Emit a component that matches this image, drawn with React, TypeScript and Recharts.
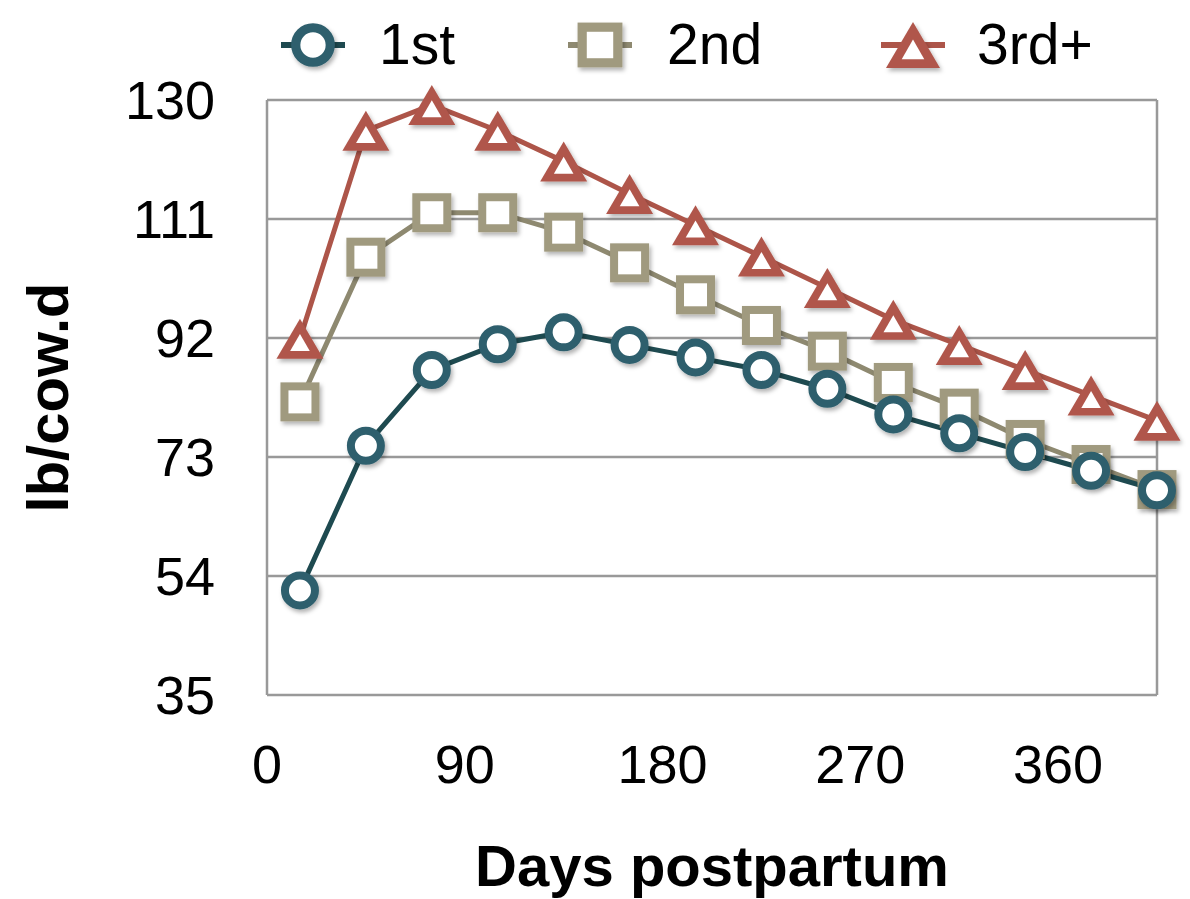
import { LineChart, Line, XAxis, YAxis, CartesianGrid, Legend } from "recharts";

const days = [15, 45, 75, 105, 135, 165, 195, 225, 255, 285, 315, 345, 375, 405];
const first = [51.7, 74.8, 86.9, 91.0, 92.9, 90.9, 88.9, 86.9, 83.9, 79.8, 76.8, 73.8, 70.8, 67.7];
const second = [81.8, 104.9, 112.0, 112.0, 108.9, 104.0, 98.9, 94.0, 89.9, 84.9, 80.8, 75.8, 71.8, 67.8];
const third = [91.9, 125.1, 129.2, 125.1, 120.2, 115.0, 110.0, 105.0, 100.0, 94.9, 90.9, 86.9, 82.8, 78.8];

const xTicks = [0, 90, 180, 270, 360];
const yTicks = [35, 54, 73, 92, 111, 130];
const seriesNames = ["1st", "2nd", "3rd+"];

const data = days.map((d, i) => ({ day: d, first: first[i], second: second[i], third: third[i] }));

const FONT = "'Liberation Sans', Arial, Helvetica, sans-serif";

const colors = {
  first: { line: "#1e4a50", mark: "#2f5f6d" },
  second: { line: "#8e8970", mark: "#a09a7f" },
  third: { line: "#ad5549", mark: "#b0574c" },
};

type Shape = "circle" | "square" | "triangle";

function Marker({ shape, cx, cy, color, scale = 1 }: { shape: Shape; cx: number; cy: number; color: string; scale?: number }) {
  const s = scale;
  if (shape === "circle") {
    return <circle cx={cx} cy={cy} r={15 * s} fill="#fff" stroke={color} strokeWidth={8 * s} filter="url(#mkShadow)" />;
  }
  if (shape === "square") {
    const h = 15.5 * s;
    return <rect x={cx - h} y={cy - h} width={2 * h} height={2 * h} fill="#fff" stroke={color} strokeWidth={8 * s} filter="url(#mkShadow)" />;
  }
  const hw = 23.5 * s;
  const top = cy - 20 * s;
  const bot = cy + 20 * s;
  const ihw = 9.8 * s;
  const itop = cy - 4.7 * s;
  const ibot = cy + 12.3 * s;
  return (
    <g filter="url(#mkShadow)">
      <path d={`M${cx},${top} L${cx + hw},${bot} L${cx - hw},${bot} Z`} fill={color} />
      <path d={`M${cx},${itop} L${cx + ihw},${ibot} L${cx - ihw},${ibot} Z`} fill="#fff" />
    </g>
  );
}

const makeDot = (shape: Shape, color: string) => (props: any) => {
  const { cx, cy, index } = props;
  if (cx == null || cy == null) return <g key={`d-${index}`} />;
  return (
    <g key={`d-${shape}-${index}`}>
      <Marker shape={shape} cx={cx} cy={cy} color={color} />
    </g>
  );
};

const legendItems: { name: string; shape: Shape; c: { line: string; mark: string }; x: number; tx: number }[] = [
  { name: seriesNames[0], shape: "circle", c: colors.first, x: 313, tx: 379 },
  { name: seriesNames[1], shape: "square", c: colors.second, x: 600, tx: 667 },
  { name: seriesNames[2], shape: "triangle", c: colors.third, x: 913, tx: 977 },
];

function LegendContent() {
  return (
    <svg width={1190} height={95}>
      {legendItems.map((it) => (
        <g key={it.name}>
          <line x1={it.x - 32} x2={it.x + 32} y1={45} y2={45} stroke={it.c.line} strokeWidth={6} />
          <Marker shape={it.shape} cx={it.x} cy={45} color={it.c.mark} scale={1.15} />
          <text x={it.tx} y={64} fontSize={57} fontFamily={FONT} fill="#000">
            {it.name}
          </text>
        </g>
      ))}
    </svg>
  );
}

export default function App() {
  return (
    <div style={{ position: "absolute", left: 0, top: 0, width: 1190, height: 899, background: "#fff" }}>
      <svg width={0} height={0} style={{ position: "absolute" }}>
        <defs>
          <filter id="mkShadow" x="-50%" y="-50%" width="200%" height="200%">
            <feDropShadow dx={2} dy={3} stdDeviation={2} floodColor="#000" floodOpacity={0.3} />
          </filter>
        </defs>
      </svg>
      <LineChart width={1190} height={899} data={data} margin={{ top: 100, right: 33, left: 0, bottom: 0 }}>
        <CartesianGrid
          stroke="#999"
          strokeWidth={2.5}
          verticalCoordinatesGenerator={({ offset }: any) => [offset.left, offset.left + offset.width]}
        />
        <XAxis
          dataKey="day"
          type="number"
          domain={[0, 405]}
          ticks={xTicks}
          height={204}
          axisLine={false}
          tickLine={false}
          tickMargin={44}
          tick={{ fontSize: 54, fill: "#000", fontFamily: FONT }}
          label={{
            content: ({ viewBox }: any) => (
              <text
                x={viewBox.x + viewBox.width / 2}
                y={886}
                textAnchor="middle"
                fontSize={58}
                fontWeight="bold"
                fontFamily={FONT}
                fill="#000"
              >
                Days postpartum
              </text>
            ),
          }}
        />
        <YAxis
          type="number"
          domain={[35, 130]}
          ticks={yTicks}
          width={267}
          axisLine={false}
          tickLine={false}
          tickMargin={46}
          tick={{ fontSize: 54, fill: "#000", fontFamily: FONT }}
          label={{
            content: ({ viewBox }: any) => {
              const cy = viewBox.y + viewBox.height / 2;
              return (
                <text
                  x={68}
                  y={cy}
                  transform={`rotate(-90, 68, ${cy})`}
                  textAnchor="middle"
                  fontSize={58}
                  fontWeight="bold"
                  fontFamily={FONT}
                  fill="#000"
                >
                  lb/cow.d
                </text>
              );
            },
          }}
        />
        <Legend
          verticalAlign="middle"
          align="center"
          layout="horizontal"
          wrapperStyle={{ position: "absolute", top: 0, left: 0, width: 1190, height: 95 }}
          content={() => <LegendContent />}
        />
        <Line
          dataKey="third"
          stroke={colors.third.line}
          strokeWidth={5}
          dot={makeDot("triangle", colors.third.mark)}
          activeDot={false}
          isAnimationActive={false}
        />
        <Line
          dataKey="second"
          stroke={colors.second.line}
          strokeWidth={5}
          dot={makeDot("square", colors.second.mark)}
          activeDot={false}
          isAnimationActive={false}
        />
        <Line
          dataKey="first"
          stroke={colors.first.line}
          strokeWidth={5}
          dot={makeDot("circle", colors.first.mark)}
          activeDot={false}
          isAnimationActive={false}
        />
      </LineChart>
    </div>
  );
}
